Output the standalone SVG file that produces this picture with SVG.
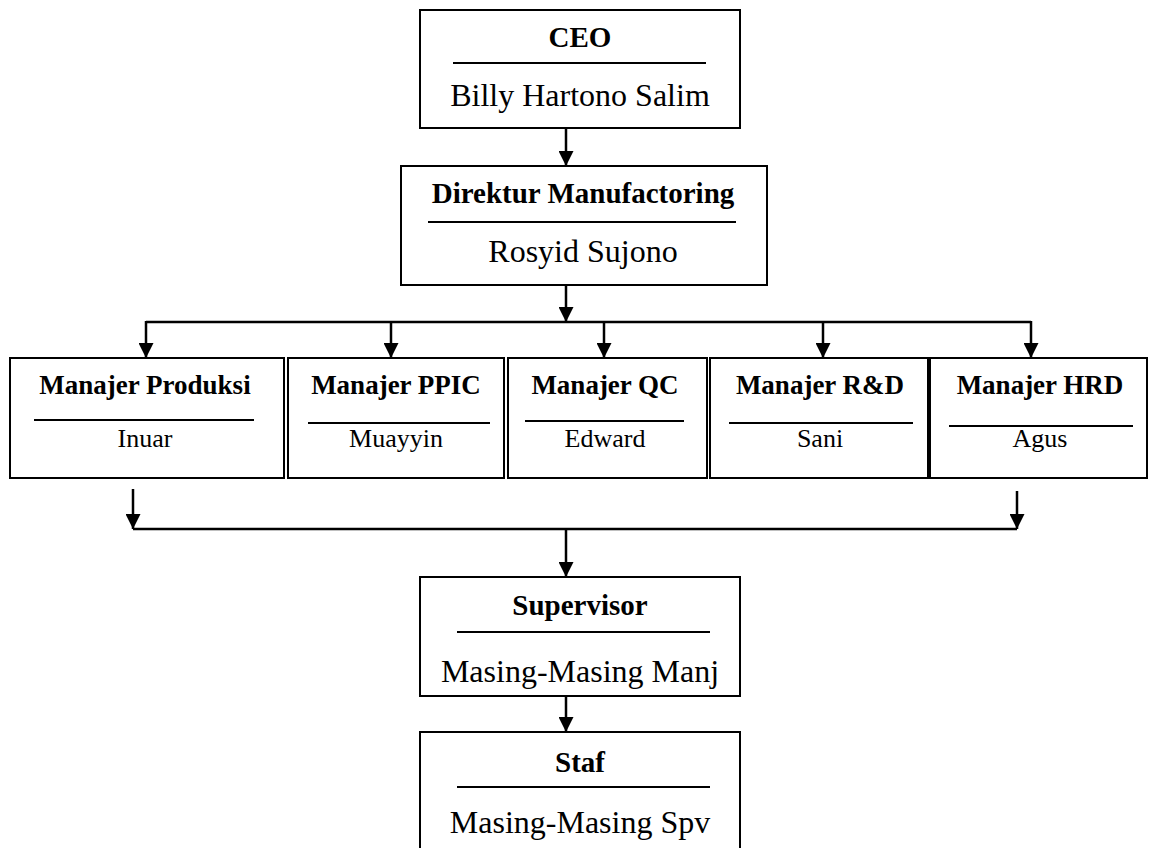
<svg xmlns="http://www.w3.org/2000/svg" width="1149" height="848" viewBox="0 0 1149 848">
<style>
.box{fill:#fff;stroke:#000;stroke-width:2}
.sep{stroke:#000;stroke-width:2}
.t{font-family:"Liberation Serif","Times New Roman",serif;font-weight:bold;fill:#000;text-anchor:middle}
.n{font-family:"Liberation Serif","Times New Roman",serif;fill:#000;text-anchor:middle}
.big{font-size:29px}
.bign{font-size:32px}
.sm{font-size:27px}
.smn{font-size:26px}
.c{fill:none;stroke:#000;stroke-width:2.5}
</style>
<defs>
<marker id="ah" markerUnits="userSpaceOnUse" markerWidth="15" markerHeight="15" viewBox="0 0 15 15" refX="15" refY="7.5" orient="auto">
<path d="M0,0 L15,7.5 L0,15 Z" fill="#000"/>
</marker>
</defs>
<rect width="1149" height="848" fill="#fff"/>
<g id="ceo">
<rect class="box" x="420" y="10" width="320" height="118"/>
<text class="t big" x="580" y="47">CEO</text>
<line class="sep" x1="453" y1="63" x2="706" y2="63"/>
<text class="n bign" x="580" y="106">Billy Hartono Salim</text>
</g>
<g id="direktur">
<rect class="box" x="401" y="166" width="366" height="119"/>
<text class="t big" x="583" y="203">Direktur Manufactoring</text>
<line class="sep" x1="428" y1="222" x2="736" y2="222"/>
<text class="n bign" x="583" y="262">Rosyid Sujono</text>
</g>
<g id="produksi">
<rect class="box" x="10" y="358" width="274" height="120"/>
<text class="t sm" x="145" y="394">Manajer Produksi</text>
<line class="sep" x1="34" y1="420" x2="254" y2="420"/>
<text class="n smn" x="145" y="447">Inuar</text>
</g>
<g id="ppic">
<rect class="box" x="288" y="358" width="216" height="120"/>
<text class="t sm" x="396" y="394">Manajer PPIC</text>
<line class="sep" x1="308" y1="423" x2="490" y2="423"/>
<text class="n smn" x="396" y="447">Muayyin</text>
</g>
<g id="qc">
<rect class="box" x="508" y="358" width="199" height="120"/>
<text class="t sm" x="605" y="394">Manajer QC</text>
<line class="sep" x1="525" y1="421" x2="684" y2="421"/>
<text class="n smn" x="605" y="447">Edward</text>
</g>
<g id="rnd">
<rect class="box" x="710" y="358" width="218" height="120"/>
<text class="t sm" x="820" y="394">Manajer R&amp;D</text>
<line class="sep" x1="729" y1="423" x2="913" y2="423"/>
<text class="n smn" x="820" y="447">Sani</text>
</g>
<g id="hrd">
<rect class="box" x="930" y="358" width="217" height="120"/>
<text class="t sm" x="1040" y="394">Manajer HRD</text>
<line class="sep" x1="949" y1="426" x2="1133" y2="426"/>
<text class="n smn" x="1040" y="447">Agus</text>
</g>
<g id="supervisor">
<rect class="box" x="420" y="577" width="320" height="119"/>
<text class="t big" x="580" y="615">Supervisor</text>
<line class="sep" x1="457" y1="632" x2="710" y2="632"/>
<text class="n bign" x="580" y="682">Masing-Masing Manj</text>
</g>
<g id="staf">
<rect class="box" x="420" y="732" width="320" height="130"/>
<text class="t big" x="580" y="772">Staf</text>
<line class="sep" x1="457" y1="787" x2="710" y2="787"/>
<text class="n bign" x="580" y="833">Masing-Masing Spv</text>
</g>
<g id="connectors">
<line class="c" x1="566" y1="128" x2="566" y2="166" marker-end="url(#ah)"/>
<line class="c" x1="566" y1="285" x2="566" y2="322" marker-end="url(#ah)"/>
<polyline class="c" points="146,322 1031,322"/>
<line class="c" x1="146" y1="321" x2="146" y2="358" marker-end="url(#ah)"/>
<line class="c" x1="391" y1="322" x2="391" y2="358" marker-end="url(#ah)"/>
<line class="c" x1="604" y1="322" x2="604" y2="358" marker-end="url(#ah)"/>
<line class="c" x1="823" y1="322" x2="823" y2="358" marker-end="url(#ah)"/>
<line class="c" x1="1031" y1="321" x2="1031" y2="358" marker-end="url(#ah)"/>
<line class="c" x1="133" y1="489" x2="133" y2="529" marker-end="url(#ah)"/>
<line class="c" x1="1017" y1="491" x2="1017" y2="529" marker-end="url(#ah)"/>
<polyline class="c" points="133,529 1017,529"/>
<line class="c" x1="566" y1="529" x2="566" y2="577" marker-end="url(#ah)"/>
<line class="c" x1="566" y1="696" x2="566" y2="732" marker-end="url(#ah)"/>
</g>
</svg>
